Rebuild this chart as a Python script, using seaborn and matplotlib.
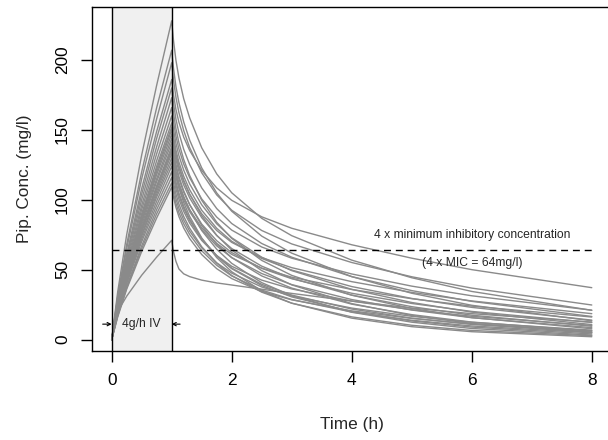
import matplotlib
matplotlib.use("Agg")
import matplotlib.pyplot as plt
import pandas as pd
import seaborn as sns

# Piperacillin concentration profiles, 4 g over 1 h infusion
time_h = [0, 0.1, 0.25, 0.5, 0.75, 1,
          1.03, 1.07, 1.12, 1.2, 1.3, 1.5, 1.75, 2, 2.5, 3, 4, 5, 6, 8]

conc = [
    [0, 34, 75, 132, 182, 228, 214, 200, 187.3, 172.3, 158.5, 137.2, 118.5, 105, 86.7, 74.3, 56.8, 44.2, 34.4, 20.9],
    [0, 28, 61, 108, 149, 186, 175.2, 164.8, 155.5, 144.8, 135.2, 121, 108.5, 99.6, 87.8, 79.6, 67.8, 58.2, 50, 37.1],
    [0, 31, 68, 120, 166, 207, 194.1, 181.2, 169.6, 155.7, 142.6, 122.8, 104.9, 91.8, 74, 61.8, 45, 33.1, 24.5, 13.4],
    [0, 30, 65, 115, 158, 198, 185.7, 173.5, 162.4, 149.5, 137.3, 119.3, 103.5, 92.5, 78, 68.4, 55.1, 44.9, 36.8, 24.7],
    [0, 27, 59, 104, 144, 180, 168.9, 157.9, 147.9, 136.1, 125.2, 108.5, 93.7, 83, 68.7, 58.9, 45, 35, 27.3, 16.5],
    [0, 26, 57, 100, 138, 173, 162, 151, 140.9, 128.8, 117.3, 99.7, 83.9, 72.4, 56.6, 45.9, 31.7, 22.2, 15.7, 7.7],
    [0, 25, 55, 96, 133, 166, 155.8, 145.6, 136.4, 125.6, 115.7, 100.6, 87.6, 78.3, 66.2, 58.2, 46.9, 38.2, 31.3, 21],
    [0, 24, 53, 93, 128, 160, 150.2, 140.5, 131.6, 121.2, 111.3, 96.4, 82.8, 72.8, 58.9, 49.3, 35.9, 26.5, 19.6, 10.7],
    [0, 23, 51, 90, 124, 155, 145.3, 135.7, 127, 116.8, 107.1, 92.5, 79.6, 70.3, 58, 49.7, 37.9, 29.4, 23, 13.9],
    [0, 23, 50, 88, 122, 152, 142.5, 132.9, 124.3, 114, 104, 88.7, 74.6, 64, 49.3, 39.1, 25.7, 17.2, 11.5, 5.2],
    [0, 22, 50, 87, 120, 150, 140.7, 131.4, 122.9, 113.1, 103.8, 90, 78, 69.5, 58.6, 51.4, 41.4, 33.7, 27.6, 18.5],
    [0, 22, 49, 85, 118, 147, 137.9, 128.7, 120.4, 110.6, 101.3, 87.2, 74.4, 65.1, 52.5, 43.8, 31.8, 23.5, 17.4, 9.5],
    [0, 22, 48, 84, 115, 144, 134.8, 125.4, 116.7, 106.4, 96.6, 81.6, 68.2, 58.6, 45.5, 36.8, 25.3, 17.8, 12.5, 6.2],
    [0, 21, 47, 82, 113, 141, 132.1, 123.1, 115, 105.4, 96.4, 82.6, 70.7, 62.2, 50.9, 43.5, 33.1, 25.8, 20.1, 12.2],
    [0, 21, 46, 80, 110, 138, 129.1, 120.3, 112.1, 102.3, 92.8, 78, 64.6, 54.5, 40.7, 31.4, 19.5, 12.4, 7.9, 3.2],
    [0, 20, 45, 79, 109, 136, 127.4, 118.8, 110.8, 101.7, 92.8, 79.9, 68.8, 60.9, 51.1, 44.6, 35.8, 29.2, 23.9, 16.1],
    [0, 20, 44, 77, 106, 133, 124.7, 116.4, 108.9, 99.9, 91.4, 78.6, 67, 58.6, 47.2, 39.3, 28.6, 21.1, 15.6, 8.5],
    [0, 20, 43, 75, 104, 130, 121.5, 112.9, 104.9, 95.4, 86.1, 72.2, 60, 51.1, 39.5, 31.8, 21.8, 15.3, 10.8, 5.3],
    [0, 19, 42, 74, 102, 127, 118.8, 110.6, 103, 93.9, 85.1, 71.9, 59.7, 50.7, 38.6, 30.5, 20, 13.3, 8.9, 4],
    [0, 19, 41, 72, 99, 124, 116, 107.9, 100.5, 91.7, 83.3, 70.9, 60.1, 52.4, 42.5, 36.2, 27.5, 21.3, 16.6, 10.1],
    [0, 18, 40, 70, 96, 120, 112.2, 104.3, 97, 88.1, 79.6, 66.4, 54.6, 45.8, 33.9, 26, 16.2, 10.2, 6.5, 2.7],
    [0, 17, 38, 67, 93, 116, 108.4, 100.8, 93.9, 85.5, 77.5, 65.6, 54.9, 47.5, 37.6, 31.1, 22.5, 16.6, 12.3, 6.7],
    [0, 17, 37, 65, 90, 112, 104.7, 97.5, 90.8, 82.8, 75.1, 63.5, 53.1, 45.5, 35.4, 28.6, 19.7, 13.8, 9.7, 4.8],
    [0, 16, 36, 63, 87, 109, 101.9, 94.6, 88, 79.8, 72.2, 60.8, 50.7, 43.6, 34.3, 28.4, 20.5, 15.1, 11.2, 6.1],
    [0, 20, 45, 78, 108, 135, 126, 116.9, 108.4, 98, 88, 72.7, 58.6, 48.5, 34.8, 26, 15.3, 9.2, 5.6, 2],
    [0, 20, 31, 46, 59, 71, 63, 56, 50.5, 47, 45, 42.5, 40.5, 39, 36, 33, 27.5, 22.5, 18.5, 12.5],
]

mic_target = 64          # 4 x MIC
infusion_end = 1         # h
x_ticks = [0, 2, 4, 6, 8]
y_ticks = [0, 50, 100, 150, 200]

rows = []
for pid, profile in enumerate(conc):
    for t, c in zip(time_h, profile):
        rows.append((pid, t, c))
df = pd.DataFrame(rows, columns=["patient", "time", "conc"])

sns.set_style("white")
plt.rcParams["font.family"] = ["Liberation Sans", "DejaVu Sans"]

fig = plt.figure(figsize=(6.08, 4.4), dpi=100)
ax = fig.add_axes([0.1521, 0.2023, 0.8528, 0.7818])

# infusion window
ax.axvspan(0, infusion_end, color="#f0f0f0", lw=0, zorder=0)

sns.lineplot(data=df, x="time", y="conc", units="patient", estimator=None,
             color="#8a8a8a", lw=1.0, ax=ax, zorder=2)

ax.axvline(0, color="black", lw=1, zorder=3)
ax.axvline(infusion_end, color="black", lw=1, zorder=3)

# target line
ax.plot([0, 8], [mic_target, mic_target], color="black", lw=1,
        ls=(0, (5, 3.5)), zorder=4)
ax.text(6, 74.8, "4 x minimum inhibitory concentration",
        ha="center", va="center", fontsize=8.7)
ax.text(6, 54.5, "(4 x MIC = 64mg/l)", ha="center", va="center", fontsize=8.7)

# infusion arrows
arrow = dict(arrowstyle="->", lw=0.8, color="black", shrinkA=0, shrinkB=0,
             mutation_scale=6)
ax.annotate("", xy=(0, 11), xytext=(-0.15, 11), arrowprops=arrow)
ax.annotate("", xy=(infusion_end, 11), xytext=(1.14, 11), arrowprops=arrow)
ax.text(0.5, 11, "4g/h IV", ha="center", va="center", fontsize=8.7)

ax.set_xlim(-0.32, 8.32)
ax.set_ylim(-8.2, 237.9)
ax.set_xticks(x_ticks)
ax.set_yticks(y_ticks)
ax.tick_params(bottom=True, left=True, direction="out", length=7.6, width=1,
               color="black", labelsize=12.4, labelcolor="black")
ax.tick_params(axis="x", pad=8)
ax.tick_params(axis="y", pad=8.5, labelrotation=90)
for lab in ax.get_yticklabels():
    lab.set_va("center")

ax.set_xlabel("Time (h)", fontsize=12.4, labelpad=21)
ax.set_ylabel("Pip. Conc. (mg/l)", fontsize=12.4, labelpad=17)

for s in ax.spines.values():
    s.set_color("black")
    s.set_linewidth(1)

fig.savefig("out.png", dpi=100)
